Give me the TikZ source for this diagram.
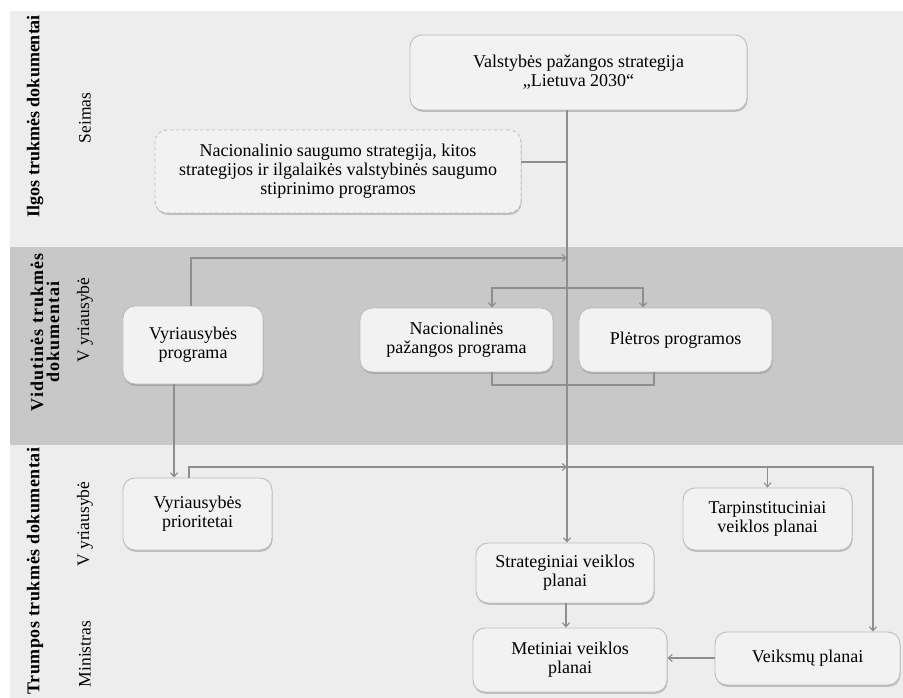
\documentclass[tikz,border=0pt]{standalone}
\usepackage{fontspec}
\setmainfont{Liberation Serif}
\usetikzlibrary{arrows.meta,shadows}
\definecolor{bandlight}{HTML}{EDEDED}
\definecolor{banddark}{HTML}{C8C8C8}
\definecolor{boxfill}{HTML}{F2F2F2}
\definecolor{boxline}{HTML}{BDBDBD}
\definecolor{conncol}{HTML}{8E8E8E}
\tikzset{
 box/.style={draw=boxline, line width=0.9pt, fill=boxfill, rounded corners=12pt, align=center,
   font=\fontsize{18}{19}\selectfont, inner sep=0pt,
   drop shadow={shadow xshift=0.6pt, shadow yshift=-1.8pt, opacity=0.35, fill=black!60}},
 dbox/.style={box, dashed},
 arrowline/.style={draw=conncol, line width=1.1pt, -{Straight Barb[length=4pt,width=7pt]}},
 lineonly/.style={draw=conncol, line width=1.1pt},
 lab/.style={rotate=90, font=\fontsize{18}{16}\selectfont\bfseries, align=center},
 sublab/.style={rotate=90, font=\fontsize{17.5}{19}\selectfont},
}
\begin{document}
\begin{tikzpicture}[x=1pt,y=-1pt]
\path[use as bounding box, fill=white] (0,0) rectangle (903,698);
\fill[bandlight] (10,11) rectangle (903,247);
\fill[banddark] (10,247) rectangle (903,445);
\fill[bandlight] (10,445) rectangle (903,698);

\node[lab] (l1) at (35,116) {Ilgos trukmės dokumentai};
\node[lab, font=\fontsize{18}{16}\selectfont\bfseries\addfontfeature{LetterSpace=6}] (l2) at (45,332) {Vidutinės trukmės\\dokumentai};
\node[lab, font=\fontsize{18}{16}\selectfont\bfseries\addfontfeature{LetterSpace=3}] (l3) at (35,571) {Trumpos trukmės dokumentai};
\node[sublab] (s1) at (85,118) {Seimas};
\node[sublab] (s2) at (85,320) {V\kern4pt yriausybė};
\node[sublab] (s3) at (85,524) {V\kern4pt yriausybė};
\node[sublab] (s4) at (85,654) {Ministras};

\node[box, minimum width=337pt, minimum height=75pt] (vps) at (578.5,72.5) {Valstybės pažangos strategija\\„Lietuva 2030“};
\node[dbox, minimum width=366pt, minimum height=83pt] (nss) at (338,171.5) {Nacionalinio saugumo strategija, kitos\\strategijos ir ilgalaikės valstybinės saugumo\\stiprinimo programos};
\node[box, minimum width=140pt, minimum height=78pt] (vp) at (193,345) {Vyriausybės\\programa};
\node[box, minimum width=193pt, minimum height=64pt] (npp) at (456.5,340) {Nacionalinės\\pažangos programa};
\node[box, minimum width=193pt, minimum height=64pt] (pp) at (675.5,340) {Plėtros programos};
\node[box, minimum width=149pt, minimum height=72pt] (vpr) at (197.5,514) {Vyriausybės\\prioritetai};
\node[box, minimum width=169pt, minimum height=62pt] (tvp) at (767.5,519) {Tarpinstituciniai\\veiklos planai};
\node[box, minimum width=178pt, minimum height=60pt] (svp) at (565,573) {Strateginiai veiklos\\planai};
\node[box, minimum width=194pt, minimum height=64pt] (mvp) at (570,660) {Metiniai veiklos\\planai};
\node[box, minimum width=185pt, minimum height=53pt] (vkp) at (807.5,658.5) {Veiksmų planai};

\coordinate (tk) at (567,0);
\draw[arrowline] (vps.south -| tk) -- (svp.north -| tk);
\draw[lineonly] (nss.east |- 0,162) -- (tk |- 0,162);
\draw[arrowline] (vp.north -| 191,0) |- (tk |- 0,258);
\draw[arrowline] (tk |- 0,288) -| (npp.north -| 492,0);
\draw[arrowline] (tk |- 0,288) -| (pp.north -| 643,0);
\draw[lineonly] (npp.south -| 492,0) |- (654,385) -- (pp.south -| 654,0);
\draw[arrowline] (vp.south -| 174,0) -- (vpr.north -| 174,0);
\draw[arrowline] (vpr.north -| 189,0) |- (tk |- 0,467);
\draw[arrowline] (tk |- 0,467) -| (vkp.north -| 873,0);
\draw[arrowline] (tvp.north |- 0,467) -- (tvp.north);
\draw[arrowline] (svp.south -| 566,0) -- (mvp.north -| 566,0);
\draw[arrowline] (vkp.west |- 0,658) -- (mvp.east |- 0,658);
\end{tikzpicture}
\end{document}
